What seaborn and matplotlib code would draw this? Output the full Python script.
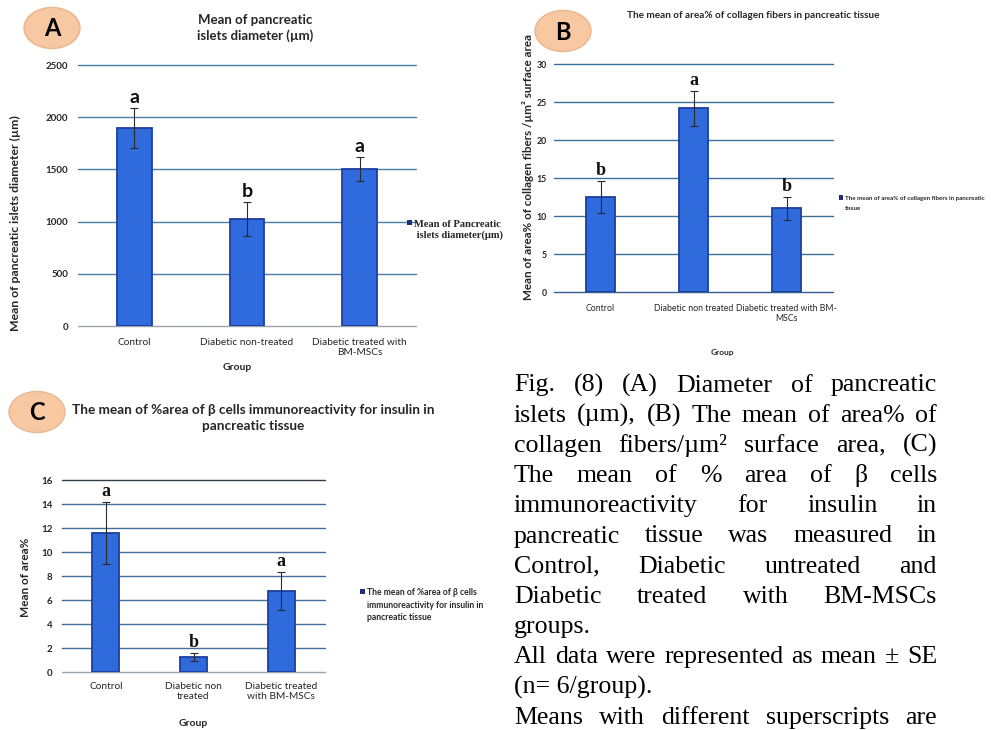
import matplotlib
matplotlib.use("Agg")
import matplotlib.pyplot as plt
import seaborn as sns
import numpy as np
import pandas as pd
from matplotlib.patches import Ellipse, Rectangle
from matplotlib import font_manager

# ---------------- data ----------------
groups_A = ["Control", "Diabetic non-treated", "Diabetic treated with\nBM-MSCs"]
mean_A = [1895, 1025, 1505]
se_A = [190, 160, 115]
letters_A = ["a", "b", "a"]
yticks_A = [0, 500, 1000, 1500, 2000, 2500]

groups_B = ["Control", "Diabetic non treated", "Diabetic treated with BM-\nMSCs"]
mean_B = [12.5, 24.2, 11.0]
se_B = [2.1, 2.3, 1.5]
letters_B = ["b", "a", "b"]
yticks_B = [0, 5, 10, 15, 20, 25, 30]

groups_C = ["Control", "Diabetic non\ntreated", "Diabetic treated\nwith BM-MSCs"]
mean_C = [11.6, 1.25, 6.75]
se_C = [2.6, 0.35, 1.6]
letters_C = ["a", "b", "a"]
yticks_C = [0, 2, 4, 6, 8, 10, 12, 14, 16]

title_A = "Mean of pancreatic\nislets diameter (µm)"
title_B = "The mean of area% of collagen fibers in pancreatic tissue"
title_C = "The mean of %area of β cells immunoreactivity for insulin in\npancreatic tissue"
ylabel_A = "Mean of pancreatic islets diameter (µm)"
ylabel_B = "Mean of area% of collagen fibers /µm² surface area"
ylabel_C = "Mean of area%"
legend_A = "Mean of Pancreatic\n islets diameter(µm)"
legend_B = "The mean of area% of collagen fibers in pancreatic\ntissue"
legend_C = "The mean of %area of β cells\nimmunoreactivity for insulin in\npancreatic tissue"

caption_lines = [
    ("Fig. (8) (A) Diameter of pancreatic", True),
    ("islets (µm), (B) The mean of area% of", True),
    ("collagen fibers/µm² surface area, (C)", True),
    ("The mean of % area of β cells", True),
    ("immunoreactivity for insulin in", True),
    ("pancreatic tissue was measured in", True),
    ("Control, Diabetic untreated and", True),
    ("Diabetic treated with BM-MSCs", True),
    ("groups.", False),
    ("All data were represented as mean ± SE", True),
    ("(n= 6/group).", False),
    ("Means with different superscripts are", True),
]

# ---------------- style ----------------
sns.set_theme(style="white")
plt.rcParams["font.family"] = ["Lato", "DejaVu Sans"]
avail = {f.name for f in font_manager.fontManager.ttflist}
SANS = ["Lato", "DejaVu Sans"]
NARROW = ["Liberation Sans Narrow", "DejaVu Sans"] if "Liberation Sans Narrow" in avail else ["Lato", "DejaVu Sans"]
SERIF = ["Liberation Serif", "DejaVu Serif"]

W, H = 991, 730
fig = plt.figure(figsize=(W / 100, H / 100), dpi=100)
fig.patch.set_facecolor("white")

BAR = "#2f6bdc"
EDGE = "#1d3f9c"
NAVY = "#1f2d7a"


def px_axes(l, t, r, b):
    return fig.add_axes([l / W, 1 - b / H, (r - l) / W, (b - t) / H])


def panel(ax, groups, means, ses, letters, yticks, grid_colors, fam, tick_fs, xtick_fs,
          letter_fam, letter_fs, ytick_pad, xtick_pad):
    df = pd.DataFrame({"Group": groups, "Mean": means})
    sns.barplot(data=df, x="Group", y="Mean", ax=ax, color=BAR, edgecolor=EDGE,
                linewidth=1.3, width=0.31, saturation=1, zorder=3)
    xs = np.arange(len(groups))
    ax.errorbar(xs, means, yerr=ses, fmt="none", ecolor="#2a2a2a", elinewidth=0.8,
                capsize=3, capthick=0.8, zorder=4)
    ax.set_xlim(-0.5, len(groups) - 0.5)
    ax.set_ylim(0, yticks[-1])
    ax.set_yticks(yticks)
    ax.set_yticklabels([str(v) for v in yticks])
    for v, c in zip(yticks, grid_colors):
        ax.axhline(v, color=c, lw=1.0, zorder=1, clip_on=False)
    sns.despine(ax=ax, left=True, bottom=True)
    ax.set_facecolor("none")
    ax.tick_params(axis="y", length=0, pad=ytick_pad, labelsize=tick_fs)
    ax.tick_params(axis="x", length=0, pad=xtick_pad, labelsize=xtick_fs)
    for lbl in ax.get_yticklabels():
        lbl.set_fontweight("bold")
        lbl.set_family(fam)
    for lbl in ax.get_xticklabels():
        lbl.set_family(fam)
        lbl.set_linespacing(1.15)
    for x, m, s, l in zip(xs, means, ses, letters):
        ax.annotate(l, xy=(x, m + s), xytext=(0, 1.5), textcoords="offset points",
                    ha="center", va="bottom", fontsize=letter_fs, fontweight="bold",
                    family=letter_fam, color="#111111")


# ---- Panel A ----
axA = px_axes(78, 65, 416, 326)
gA = ["#9aa3ab"] + ["#4a7ca6"] * 5
panel(axA, groups_A, mean_A, se_A, letters_A, yticks_A, gA, SANS, 7, 7.3,
      SANS, 14, 7, 8.5)
axA.set_xlabel("Group", fontsize=7.5, fontweight="bold", family=SANS, va="center")
axA.xaxis.set_label_coords((237 - 78) / 338, (326 - 367) / 261)
axA.set_ylabel(ylabel_A, fontsize=8.8, fontweight="bold", family=SANS, va="center")
axA.yaxis.set_label_coords((15 - 78) / 338, (326 - 223) / 261)

# ---- Panel B ----
axB = px_axes(554, 64, 833, 292)
gB = ["#2f5f8f"] + ["#3d6d9a"] * 6
panel(axB, groups_B, mean_B, se_B, letters_B, yticks_B, gB, NARROW, 6.3, 6.3,
      SERIF, 13, 5, 8.5)
axB.set_xlabel("Group", fontsize=6, fontweight="bold", family=NARROW, va="center")
axB.xaxis.set_label_coords((722 - 554) / 279, (292 - 353) / 228)
axB.set_ylabel(ylabel_B, fontsize=8.4, fontweight="bold", family=SANS, va="center")
axB.yaxis.set_label_coords((528 - 554) / 279, (292 - 167) / 228)

# ---- Panel C ----
axC = px_axes(62, 480, 325, 672)
gC = ["#9aa3ab"] + ["#3f6f99"] * 7 + ["#333a40"]
panel(axC, groups_C, mean_C, se_C, letters_C, yticks_C, gC, SANS, 7, 7.3,
      SERIF, 13, 7, 7.5)
axC.set_xlabel("Group", fontsize=7.5, fontweight="bold", family=SANS, va="center",
               labelpad=0)
axC.xaxis.set_label_coords((193 - 62) / 263, (672 - 723) / 192)
axC.set_ylabel(ylabel_C, fontsize=8.5, fontweight="bold", family=SANS, va="center")
axC.yaxis.set_label_coords((26 - 62) / 263, (672 - 577) / 192)

# ---------------- overlay (pixel coordinates) ----------------
ov = fig.add_axes([0, 0, 1, 1])
ov.set_xlim(0, W)
ov.set_ylim(H, 0)
ov.axis("off")
ov.patch.set_alpha(0)

# badges
for (cx, cy, lab) in [(52, 28, "A"), (563, 31, "B"), (37, 412, "C")]:
    ov.add_patch(Ellipse((cx, cy), 56, 41, facecolor="#f7c8a2", edgecolor="#ebb58c", lw=1.0))
    ov.text(cx, cy + 1, lab, ha="center", va="center", fontsize=17, fontweight="bold",
            family=SANS, color="black")

# titles
ov.text(255, 28, title_A, ha="center", va="center", fontsize=9.5, fontweight="bold",
        family=SANS, linespacing=1.35)
ov.text(753, 16, title_B, ha="center", va="center", fontsize=7.2, fontweight="bold",
        family=NARROW)
ov.text(253, 418, title_C, ha="center", va="center", fontsize=9.8, fontweight="bold",
        family=SANS, linespacing=1.3)

# legends
ov.add_patch(Rectangle((407, 220), 5, 5, facecolor=NAVY, edgecolor="none"))
ov.text(414, 230, legend_A, ha="left", va="center", fontsize=7.6, fontweight="bold",
        family=SERIF, linespacing=1.25)

ov.add_patch(Rectangle((839, 195), 3.5, 5, facecolor=NAVY, edgecolor="none"))
ov.text(845, 203.5, legend_B, ha="left", va="center", fontsize=4.5, fontweight="bold",
        family=NARROW, linespacing=2.1)

ov.add_patch(Rectangle((360, 589), 5, 5, facecolor=NAVY, edgecolor="none"))
ov.text(367, 605, legend_C, ha="left", va="center", fontsize=6.2, fontweight="bold",
        family=SANS, linespacing=1.5)

# caption (justified text)
renderer = fig.canvas.get_renderer()
x_left, x_right = 514, 937
base0, step = 391.5, 30.2
cap_fs = 18.6
for i, (line, justify) in enumerate(caption_lines):
    yb = base0 + i * step
    words = line.split(" ")
    if not justify or len(words) == 1:
        ov.text(x_left, yb, line, ha="left", va="baseline", fontsize=cap_fs,
                family=SERIF, color="black")
        continue
    tobjs = [ov.text(0, yb, w, ha="left", va="baseline", fontsize=cap_fs,
                     family=SERIF, color="black") for w in words]
    widths = [t.get_window_extent(renderer=renderer).width for t in tobjs]
    gap = (x_right - x_left - sum(widths)) / (len(words) - 1)
    x = x_left
    for t, w in zip(tobjs, widths):
        t.set_position((x, yb))
        x += w + gap

fig.savefig("out.png", dpi=100, facecolor="white")
